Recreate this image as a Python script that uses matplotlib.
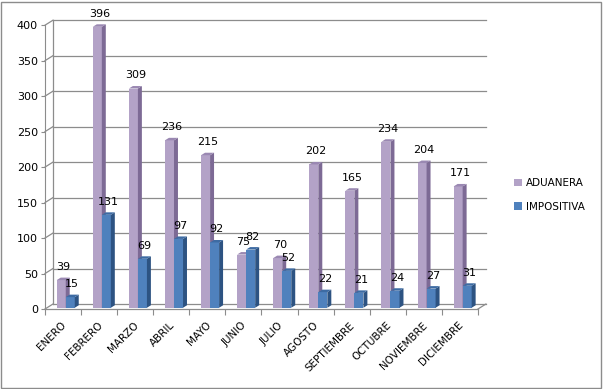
import matplotlib
matplotlib.use("Agg")
import matplotlib.pyplot as plt
from matplotlib.patches import Polygon, Rectangle, Patch

# Data
Months = ["ENERO", "FEBRERO", "MARZO", "ABRIL", "MAYO", "JUNIO", "JULIO",
          "AGOSTO", "SEPTIEMBRE", "OCTUBRE", "NOVIEMBRE", "DICIEMBRE"]
Aduanera = [39, 396, 309, 236, 215, 75, 70, 202, 165, 234, 204, 171]
Impositiva = [15, 131, 69, 97, 92, 82, 52, 22, 21, 24, 27, 31]
YTicks = [0, 50, 100, 150, 200, 250, 300, 350, 400]

# Colors (face, side, top)
Purple = ("#B3A2C7", "#7D6A95", "#9A88B2")
Blue = ("#4F81BD", "#2D5382", "#3D6BA3")
GridColor = "#8C8C8C"

# fake 3D depth (category units / value units)
DX, DY = 0.22, 7.0
F0, FB = 0.25, 0.5
W = 0.25

fig = plt.figure(figsize=(6.03, 3.89), dpi=100)
ax = fig.add_axes([45 / 603, 80 / 389, 442 / 603, 298 / 389])
ax.set_xlim(0, 12.25)
ax.set_ylim(0, 420)
for s in ["top", "right", "bottom"]:
    ax.spines[s].set_visible(False)
ax.spines["left"].set_color(GridColor)
ax.spines["left"].set_bounds(0, 400)


def draw_bar(x, v, cols, label):
    x0 = x + F0 * DX
    b = F0 * DY
    t = b + v
    bdx, bdy = FB * DX, FB * DY
    ax.add_patch(Rectangle((x0, b), W, v, facecolor=cols[0], edgecolor="none", zorder=3))
    ax.add_patch(Polygon([(x0 + W, b), (x0 + W + bdx, b + bdy),
                          (x0 + W + bdx, t + bdy), (x0 + W, t)],
                         closed=True, facecolor=cols[1], edgecolor="none", zorder=3))
    ax.add_patch(Polygon([(x0, t), (x0 + bdx, t + bdy),
                          (x0 + W + bdx, t + bdy), (x0 + W, t)],
                         closed=True, facecolor=cols[2], edgecolor="none", zorder=3))
    ax.annotate(str(label), (x0 + W / 2 + bdx / 2, t + bdy), textcoords="offset points",
                xytext=(0, 4), ha="center", va="bottom", fontsize=8, zorder=4,
                annotation_clip=False)


# walls / grid
for v in YTicks:
    ax.plot([DX, 12 + DX], [v + DY, v + DY], color=GridColor, lw=0.9, zorder=1, clip_on=False)
    ax.plot([0, DX], [v, v + DY], color=GridColor, lw=0.9, zorder=1, clip_on=False)
ax.plot([DX, DX], [DY, 400 + DY], color=GridColor, lw=0.9, zorder=1)
ax.plot([0, 12], [0, 0], color=GridColor, lw=0.9, zorder=2, clip_on=False)
ax.plot([12, 12 + DX], [0, DY], color=GridColor, lw=0.9, zorder=2, clip_on=False)

for i in range(len(Months)):
    draw_bar(i + 0.27, Aduanera[i], Purple, Aduanera[i])
    draw_bar(i + 0.52, Impositiva[i], Blue, Impositiva[i])

# ticks
ax.set_yticks(YTicks)
ax.tick_params(axis="y", length=3, color=GridColor, labelsize=8, pad=2)
ax.set_xticks(range(13))
ax.set_xticklabels([])
ax.tick_params(axis="x", which="major", length=4, color=GridColor)
ax.set_xticks([i + 0.45 for i in range(12)], minor=True)
ax.set_xticklabels(Months, minor=True, rotation=45, ha="right",
                   rotation_mode="anchor", fontsize=7.5)
ax.tick_params(axis="x", which="minor", length=0, pad=8)

# legend
handles = [Patch(facecolor=Purple[0], edgecolor="none", label="ADUANERA"),
           Patch(facecolor=Blue[0], edgecolor="none", label="IMPOSITIVA")]
fig.legend(handles=handles, loc="center left", bbox_to_anchor=(505 / 603, 1 - 195 / 389),
           frameon=False, fontsize=7.5, handlelength=0.7, handleheight=0.7,
           handletextpad=0.4, labelspacing=1.3)

# outer border
fig.patches.append(Rectangle((1 / 603, 1 / 389), 600 / 603, 386 / 389,
                             transform=fig.transFigure, fill=False,
                             edgecolor="#8C8C8C", lw=1))

plt.savefig("out.png", dpi=100)
plt.close()
